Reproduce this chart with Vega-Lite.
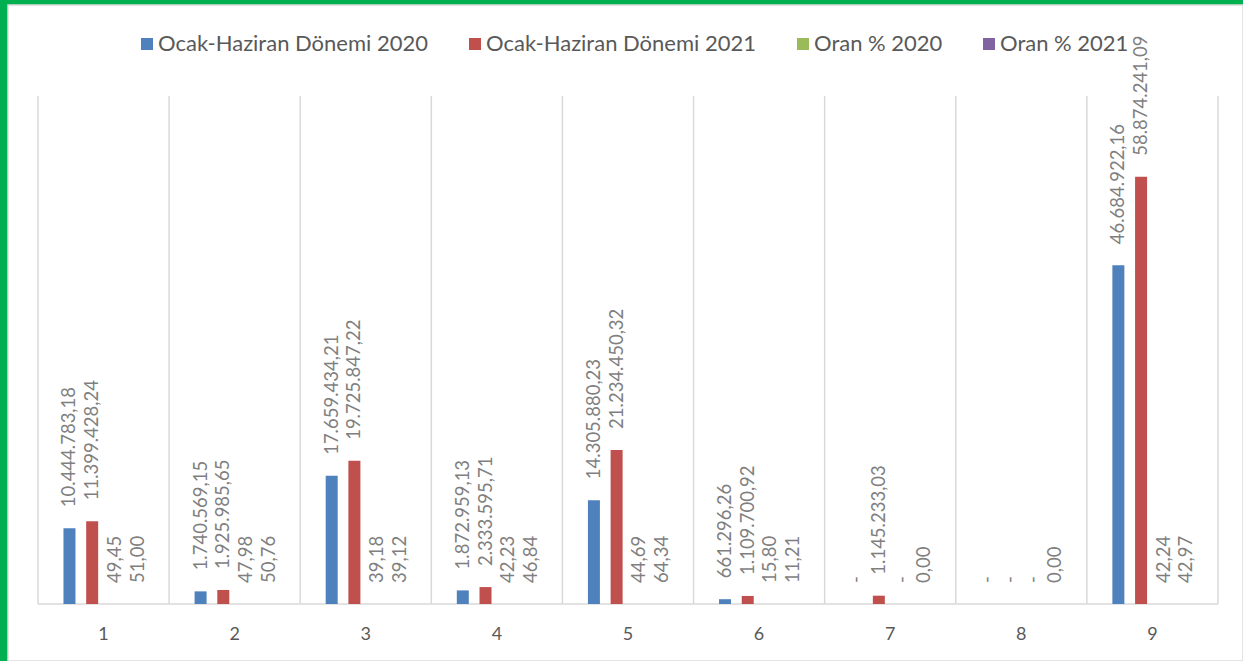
{
  "$schema": "https://vega.github.io/schema/vega-lite/v6.json",
  "width": 1235,
  "height": 656,
  "autosize": {"type": "none"},
  "padding": {"left": 8, "top": 5, "right": 0, "bottom": 0},
  "background": "#00b050",
  "config": {
    "view": {"stroke": "#dcdcdc", "strokeWidth": 1.5, "fill": "white"},
    "font": "Lato",
    "locale": {"number": {"decimal": ",", "thousands": ".", "grouping": [3], "currency": ["", ""]}}
  },
  "data": {
    "values": [
      {"cat": "1", "series": "Ocak-Haziran Dönemi 2020", "value": 10444783.18},
      {"cat": "1", "series": "Ocak-Haziran Dönemi 2021", "value": 11399428.24},
      {"cat": "1", "series": "Oran % 2020", "value": 49.45},
      {"cat": "1", "series": "Oran % 2021", "value": 51.00},
      {"cat": "2", "series": "Ocak-Haziran Dönemi 2020", "value": 1740569.15},
      {"cat": "2", "series": "Ocak-Haziran Dönemi 2021", "value": 1925985.65},
      {"cat": "2", "series": "Oran % 2020", "value": 47.98},
      {"cat": "2", "series": "Oran % 2021", "value": 50.76},
      {"cat": "3", "series": "Ocak-Haziran Dönemi 2020", "value": 17659434.21},
      {"cat": "3", "series": "Ocak-Haziran Dönemi 2021", "value": 19725847.22},
      {"cat": "3", "series": "Oran % 2020", "value": 39.18},
      {"cat": "3", "series": "Oran % 2021", "value": 39.12},
      {"cat": "4", "series": "Ocak-Haziran Dönemi 2020", "value": 1872959.13},
      {"cat": "4", "series": "Ocak-Haziran Dönemi 2021", "value": 2333595.71},
      {"cat": "4", "series": "Oran % 2020", "value": 42.23},
      {"cat": "4", "series": "Oran % 2021", "value": 46.84},
      {"cat": "5", "series": "Ocak-Haziran Dönemi 2020", "value": 14305880.23},
      {"cat": "5", "series": "Ocak-Haziran Dönemi 2021", "value": 21234450.32},
      {"cat": "5", "series": "Oran % 2020", "value": 44.69},
      {"cat": "5", "series": "Oran % 2021", "value": 64.34},
      {"cat": "6", "series": "Ocak-Haziran Dönemi 2020", "value": 661296.26},
      {"cat": "6", "series": "Ocak-Haziran Dönemi 2021", "value": 1109700.92},
      {"cat": "6", "series": "Oran % 2020", "value": 15.80},
      {"cat": "6", "series": "Oran % 2021", "value": 11.21},
      {"cat": "7", "series": "Ocak-Haziran Dönemi 2020", "value": null},
      {"cat": "7", "series": "Ocak-Haziran Dönemi 2021", "value": 1145233.03},
      {"cat": "7", "series": "Oran % 2020", "value": null},
      {"cat": "7", "series": "Oran % 2021", "value": 0.00},
      {"cat": "8", "series": "Ocak-Haziran Dönemi 2020", "value": null},
      {"cat": "8", "series": "Ocak-Haziran Dönemi 2021", "value": null},
      {"cat": "8", "series": "Oran % 2020", "value": null},
      {"cat": "8", "series": "Oran % 2021", "value": 0.00},
      {"cat": "9", "series": "Ocak-Haziran Dönemi 2020", "value": 46684922.16},
      {"cat": "9", "series": "Ocak-Haziran Dönemi 2021", "value": 58874241.09},
      {"cat": "9", "series": "Oran % 2020", "value": 42.24},
      {"cat": "9", "series": "Oran % 2021", "value": 42.97}
    ]
  },
  "transform": [
    {"calculate": "datum.value == null ? 0 : datum.value", "as": "pos"},
    {"calculate": "datum.value == null ? '-' : format(datum.value, ',.2f')", "as": "label"}
  ],
  "encoding": {
    "x": {
      "field": "cat",
      "type": "nominal",
      "scale": {"paddingInner": 0, "paddingOuter": 0.2097, "align": 0.545},
      "axis": {
        "title": null,
        "labelAngle": 0,
        "ticks": false,
        "grid": false,
        "domain": false,
        "offset": -57,
        "labelFontSize": 18,
        "labelColor": "#595959",
        "labelPadding": 21
      }
    },
    "y": {
      "field": "pos",
      "type": "quantitative",
      "scale": {"domain": [-7854331, 82539370], "nice": false, "zero": false},
      "axis": null
    }
  },
  "layer": [
    {
      "transform": [{"filter": "datum.series == 'Ocak-Haziran Dönemi 2020'"}],
      "mark": {"type": "rule", "color": "#d9d9d9", "strokeWidth": 1.5},
      "encoding": {
        "x": {"field": "cat", "type": "nominal", "bandPosition": 0},
        "y": {"datum": 0, "type": "quantitative"},
        "y2": {"datum": 70000000}
      }
    },
    {
      "transform": [{"filter": "datum.series == 'Ocak-Haziran Dönemi 2020' && datum.cat == '9'"}],
      "mark": {"type": "rule", "color": "#d9d9d9", "strokeWidth": 1.5},
      "encoding": {
        "x": {"field": "cat", "type": "nominal", "bandPosition": 1},
        "y": {"datum": 0, "type": "quantitative"},
        "y2": {"datum": 70000000}
      }
    },
    {
      "transform": [{"filter": "datum.series == 'Ocak-Haziran Dönemi 2020'"}],
      "mark": {"type": "rect", "fill": null, "stroke": "#d9d9d9", "strokeWidth": 1.5},
      "encoding": {
        "x": {"field": "cat", "type": "nominal"},
        "y": {"datum": 0, "type": "quantitative"},
        "y2": {"datum": 0}
      }
    },
    {
      "mark": {"type": "bar", "width": 12},
      "encoding": {
        "xOffset": {
          "field": "series",
          "type": "nominal",
          "sort": ["Ocak-Haziran Dönemi 2020", "Ocak-Haziran Dönemi 2021", "Oran % 2020", "Oran % 2021"],
          "scale": {"paddingInner": 0.225, "paddingOuter": 1}
        },
        "y": {"field": "pos", "type": "quantitative"},
        "color": {
          "field": "series",
          "type": "nominal",
          "scale": {
            "domain": ["Ocak-Haziran Dönemi 2020", "Ocak-Haziran Dönemi 2021", "Oran % 2020", "Oran % 2021"],
            "range": ["#4f81bd", "#c0504d", "#9bbb59", "#8064a2"]
          },
          "legend": {
            "orient": "none",
            "legendX": 128,
            "legendY": 28,
            "direction": "horizontal",
            "columns": 4,
            "title": null,
            "symbolType": "square",
            "symbolSize": 144,
            "symbolStrokeWidth": 0,
            "labelFontSize": 22,
            "labelColor": "#595959",
            "labelLimit": 0,
            "labelOffset": 0,
            "columnPadding": 35,
            "padding": 0
          }
        }
      }
    },
    {
      "mark": {"type": "text", "angle": 270, "align": "left", "baseline": "middle", "dx": 21, "fontSize": 18.5, "color": "#7f7f7f"},
      "encoding": {
        "xOffset": {
          "field": "series",
          "type": "nominal",
          "sort": ["Ocak-Haziran Dönemi 2020", "Ocak-Haziran Dönemi 2021", "Oran % 2020", "Oran % 2021"],
          "scale": {"paddingInner": 0.225, "paddingOuter": 1}
        },
        "y": {"field": "pos", "type": "quantitative"},
        "text": {"field": "label", "type": "nominal"}
      }
    }
  ]
}
